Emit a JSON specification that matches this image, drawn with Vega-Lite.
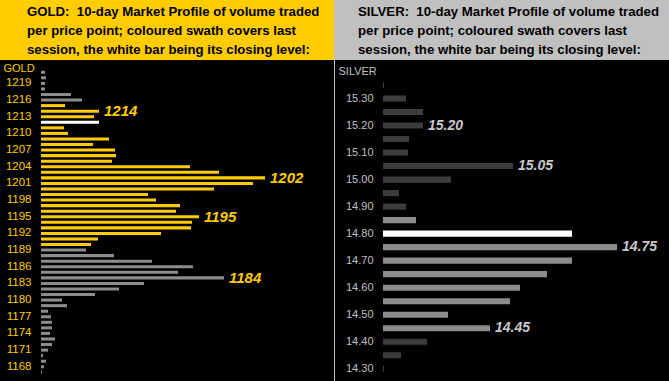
{
  "$schema": "https://vega.github.io/schema/vega-lite/v6.json",
  "background": "#C0C0C0",
  "padding": 0,
  "spacing": 1,
  "resolve": {"scale": {"color": "independent"}},
  "config": {
    "view": {"stroke": null},
    "font": "Liberation Sans",
    "title": {"anchor": "start", "frame": "group", "orient": "bottom", "offset": -54, "baseline": "top", "font": "Liberation Sans", "fontSize": 13.2, "fontWeight": "bold", "color": "#000000", "lineHeight": 19.2}
  },
  "datasets": {
    "gold": [
      {"price": "1221", "vol": 4, "kind": "prior"},
      {"price": "1220", "vol": 5, "kind": "prior"},
      {"price": "1219", "vol": 4, "kind": "prior"},
      {"price": "1218", "vol": 4, "kind": "prior"},
      {"price": "1217", "vol": 30, "kind": "prior"},
      {"price": "1216", "vol": 41, "kind": "prior"},
      {"price": "1215", "vol": 24, "kind": "session"},
      {"price": "1214", "vol": 58, "kind": "session", "label": "1214"},
      {"price": "1213", "vol": 53, "kind": "session"},
      {"price": "1212", "vol": 58, "kind": "close"},
      {"price": "1211", "vol": 23, "kind": "session"},
      {"price": "1210", "vol": 27, "kind": "session"},
      {"price": "1209", "vol": 68, "kind": "session"},
      {"price": "1208", "vol": 52, "kind": "session"},
      {"price": "1207", "vol": 74, "kind": "session"},
      {"price": "1206", "vol": 75, "kind": "session"},
      {"price": "1205", "vol": 71, "kind": "session"},
      {"price": "1204", "vol": 149, "kind": "session"},
      {"price": "1203", "vol": 178, "kind": "session"},
      {"price": "1202", "vol": 224, "kind": "session", "label": "1202"},
      {"price": "1201", "vol": 212, "kind": "session"},
      {"price": "1200", "vol": 173, "kind": "session"},
      {"price": "1199", "vol": 107, "kind": "session"},
      {"price": "1198", "vol": 115, "kind": "session"},
      {"price": "1197", "vol": 139, "kind": "session"},
      {"price": "1196", "vol": 135, "kind": "session"},
      {"price": "1195", "vol": 158, "kind": "session", "label": "1195"},
      {"price": "1194", "vol": 151, "kind": "session"},
      {"price": "1193", "vol": 150, "kind": "session"},
      {"price": "1192", "vol": 120, "kind": "session"},
      {"price": "1191", "vol": 57, "kind": "session"},
      {"price": "1190", "vol": 50, "kind": "session"},
      {"price": "1189", "vol": 45, "kind": "prior"},
      {"price": "1188", "vol": 73, "kind": "prior"},
      {"price": "1187", "vol": 111, "kind": "prior"},
      {"price": "1186", "vol": 152, "kind": "prior"},
      {"price": "1185", "vol": 137, "kind": "prior"},
      {"price": "1184", "vol": 183, "kind": "prior", "label": "1184"},
      {"price": "1183", "vol": 103, "kind": "prior"},
      {"price": "1182", "vol": 78, "kind": "prior"},
      {"price": "1181", "vol": 54, "kind": "prior"},
      {"price": "1180", "vol": 21, "kind": "prior"},
      {"price": "1179", "vol": 26, "kind": "prior"},
      {"price": "1178", "vol": 7, "kind": "prior"},
      {"price": "1177", "vol": 10, "kind": "prior"},
      {"price": "1176", "vol": 11, "kind": "prior"},
      {"price": "1175", "vol": 11, "kind": "prior"},
      {"price": "1174", "vol": 9, "kind": "prior"},
      {"price": "1173", "vol": 14, "kind": "prior"},
      {"price": "1172", "vol": 11, "kind": "prior"},
      {"price": "1171", "vol": 7, "kind": "prior"},
      {"price": "1170", "vol": 2, "kind": "prior"},
      {"price": "1169", "vol": 5, "kind": "prior"},
      {"price": "1168", "vol": 3, "kind": "prior"},
      {"price": "1167", "vol": 1, "kind": "prior"}
    ],
    "silver": [
      {"price": "15.35", "vol": 1, "kind": "prior"},
      {"price": "15.30", "vol": 23, "kind": "prior"},
      {"price": "15.25", "vol": 40, "kind": "prior"},
      {"price": "15.20", "vol": 40, "kind": "prior", "label": "15.20"},
      {"price": "15.15", "vol": 26, "kind": "prior"},
      {"price": "15.10", "vol": 25, "kind": "prior"},
      {"price": "15.05", "vol": 130, "kind": "prior", "label": "15.05"},
      {"price": "15.00", "vol": 68, "kind": "prior"},
      {"price": "14.95", "vol": 16, "kind": "prior"},
      {"price": "14.90", "vol": 23, "kind": "prior"},
      {"price": "14.85", "vol": 33, "kind": "session"},
      {"price": "14.80", "vol": 189, "kind": "close"},
      {"price": "14.75", "vol": 234, "kind": "session", "label": "14.75"},
      {"price": "14.70", "vol": 189, "kind": "session"},
      {"price": "14.65", "vol": 164, "kind": "session"},
      {"price": "14.60", "vol": 137, "kind": "session"},
      {"price": "14.55", "vol": 127, "kind": "session"},
      {"price": "14.50", "vol": 65, "kind": "session"},
      {"price": "14.45", "vol": 107, "kind": "session", "label": "14.45"},
      {"price": "14.40", "vol": 44, "kind": "prior"},
      {"price": "14.35", "vol": 18, "kind": "prior"},
      {"price": "14.30", "vol": 1, "kind": "prior"}
    ]
  },
  "hconcat": [
    {
      "spacing": 0,
      "resolve": {"scale": {"color": "independent"}},
      "vconcat": [
        {
          "spacing": 0,
          "hconcat": [
            {
              "width": 27,
              "height": 60,
              "view": {"fill": "#FFCC00", "stroke": null},
              "data": {"values": [{}]},
              "mark": {"type": "rect", "color": "#FFCC00"},
              "encoding": {}
            },
            {
              "width": 307,
              "height": 60,
              "view": {"fill": "#FFCC00", "stroke": null},
              "data": {"values": [{}]},
              "mark": {"type": "rect", "color": "#FFCC00"},
              "encoding": {},
              "title": {
                "text": ["GOLD:\u00a0 10-day Market Profile of volume traded", "per price point; coloured swath covers last", "session, the white bar being its closing level:"]
              }
            }
          ]
        },
        {
          "width": 334,
          "height": 321,
          "view": {"fill": "#000000", "stroke": null},
          "data": {"name": "gold"},
          "encoding": {
            "y": {
              "field": "price",
              "type": "ordinal",
              "sort": "descending",
              "scale": {"range": [9.5, 315.1], "paddingInner": 0.45, "paddingOuter": 0.225},
              "axis": {
                "orient": "left",
                "offset": -31,
                "values": ["1219", "1216", "1213", "1210", "1207", "1204", "1201", "1198", "1195", "1192", "1189", "1186", "1183", "1180", "1177", "1174", "1171", "1168"],
                "domain": false,
                "ticks": false,
                "tickSize": 0,
                "labelPadding": 0,
                "labelFont": "Liberation Sans",
                "labelFontSize": 11.5,
                "labelColor": "#FFCC00",
                "title": "GOLD",
                "titleFont": "Liberation Sans",
                "titleFontSize": 11,
                "titleFontWeight": "normal",
                "titleColor": "#FFCC00",
                "titleAngle": 0,
                "titleAlign": "left",
                "titleBaseline": "middle",
                "titleX": -28,
                "titleY": 8.3
              }
            },
            "x": {
              "field": "vol",
              "type": "quantitative",
              "scale": {"domain": [0, 293], "range": [41, 334]},
              "axis": null
            }
          },
          "layer": [
            {
              "mark": {"type": "bar"},
              "encoding": {
                "color": {
                  "field": "kind",
                  "type": "nominal",
                  "scale": {"domain": ["prior", "session", "close"], "range": ["#8C8C8C", "#FFCC00", "#FFFFFF"]},
                  "legend": null
                }
              }
            },
            {
              "transform": [{"filter": "isValid(datum.label)"}],
              "mark": {"type": "text", "align": "left", "baseline": "middle", "dx": 5, "font": "Liberation Sans", "fontSize": 15, "fontStyle": "italic", "fontWeight": "bold", "color": "#FFCC00"},
              "encoding": {"text": {"field": "label", "type": "nominal"}}
            }
          ]
        }
      ]
    },
    {
      "spacing": 0,
      "resolve": {"scale": {"color": "independent"}},
      "vconcat": [
        {
          "spacing": 0,
          "hconcat": [
            {
              "width": 23,
              "height": 60,
              "view": {"fill": "#C0C0C0", "stroke": null},
              "data": {"values": [{}]},
              "mark": {"type": "rect", "color": "#C0C0C0"},
              "encoding": {}
            },
            {
              "width": 311,
              "height": 60,
              "view": {"fill": "#C0C0C0", "stroke": null},
              "data": {"values": [{}]},
              "mark": {"type": "rect", "color": "#C0C0C0"},
              "encoding": {},
              "title": {
                "text": ["SILVER:\u00a0 10-day Market Profile of volume traded", "per price point; coloured swath covers last", "session, the white bar being its closing level:"]
              }
            }
          ]
        },
        {
          "width": 334,
          "height": 321,
          "view": {"fill": "#000000", "stroke": null},
          "data": {"name": "silver"},
          "encoding": {
            "y": {
              "field": "price",
              "type": "ordinal",
              "sort": "descending",
              "scale": {"range": [18.25, 315.5], "paddingInner": 0.55, "paddingOuter": 0.275},
              "axis": {
                "orient": "left",
                "offset": -38,
                "values": ["15.30", "15.20", "15.10", "15.00", "14.90", "14.80", "14.70", "14.60", "14.50", "14.40", "14.30"],
                "domain": false,
                "ticks": false,
                "tickSize": 0,
                "labelPadding": 0,
                "labelFont": "Liberation Sans",
                "labelFontSize": 11,
                "labelColor": "#C0C0C0",
                "title": "SILVER",
                "titleFont": "Liberation Sans",
                "titleFontSize": 11,
                "titleFontWeight": "normal",
                "titleColor": "#C0C0C0",
                "titleAngle": 0,
                "titleAlign": "left",
                "titleBaseline": "middle",
                "titleX": -35,
                "titleY": 11.7
              }
            },
            "x": {
              "field": "vol",
              "type": "quantitative",
              "scale": {"domain": [0, 286], "range": [48, 334]},
              "axis": null
            }
          },
          "layer": [
            {
              "mark": {"type": "bar"},
              "encoding": {
                "color": {
                  "field": "kind",
                  "type": "nominal",
                  "scale": {"domain": ["prior", "session", "close"], "range": ["#3C3C3C", "#8C8C8C", "#FFFFFF"]},
                  "legend": null
                }
              }
            },
            {
              "transform": [{"filter": "isValid(datum.label)"}],
              "mark": {"type": "text", "align": "left", "baseline": "middle", "dx": 5, "font": "Liberation Sans", "fontSize": 14, "fontStyle": "italic", "fontWeight": "bold", "color": "#C8C8C8"},
              "encoding": {"text": {"field": "label", "type": "nominal"}}
            }
          ]
        }
      ]
    }
  ]
}
